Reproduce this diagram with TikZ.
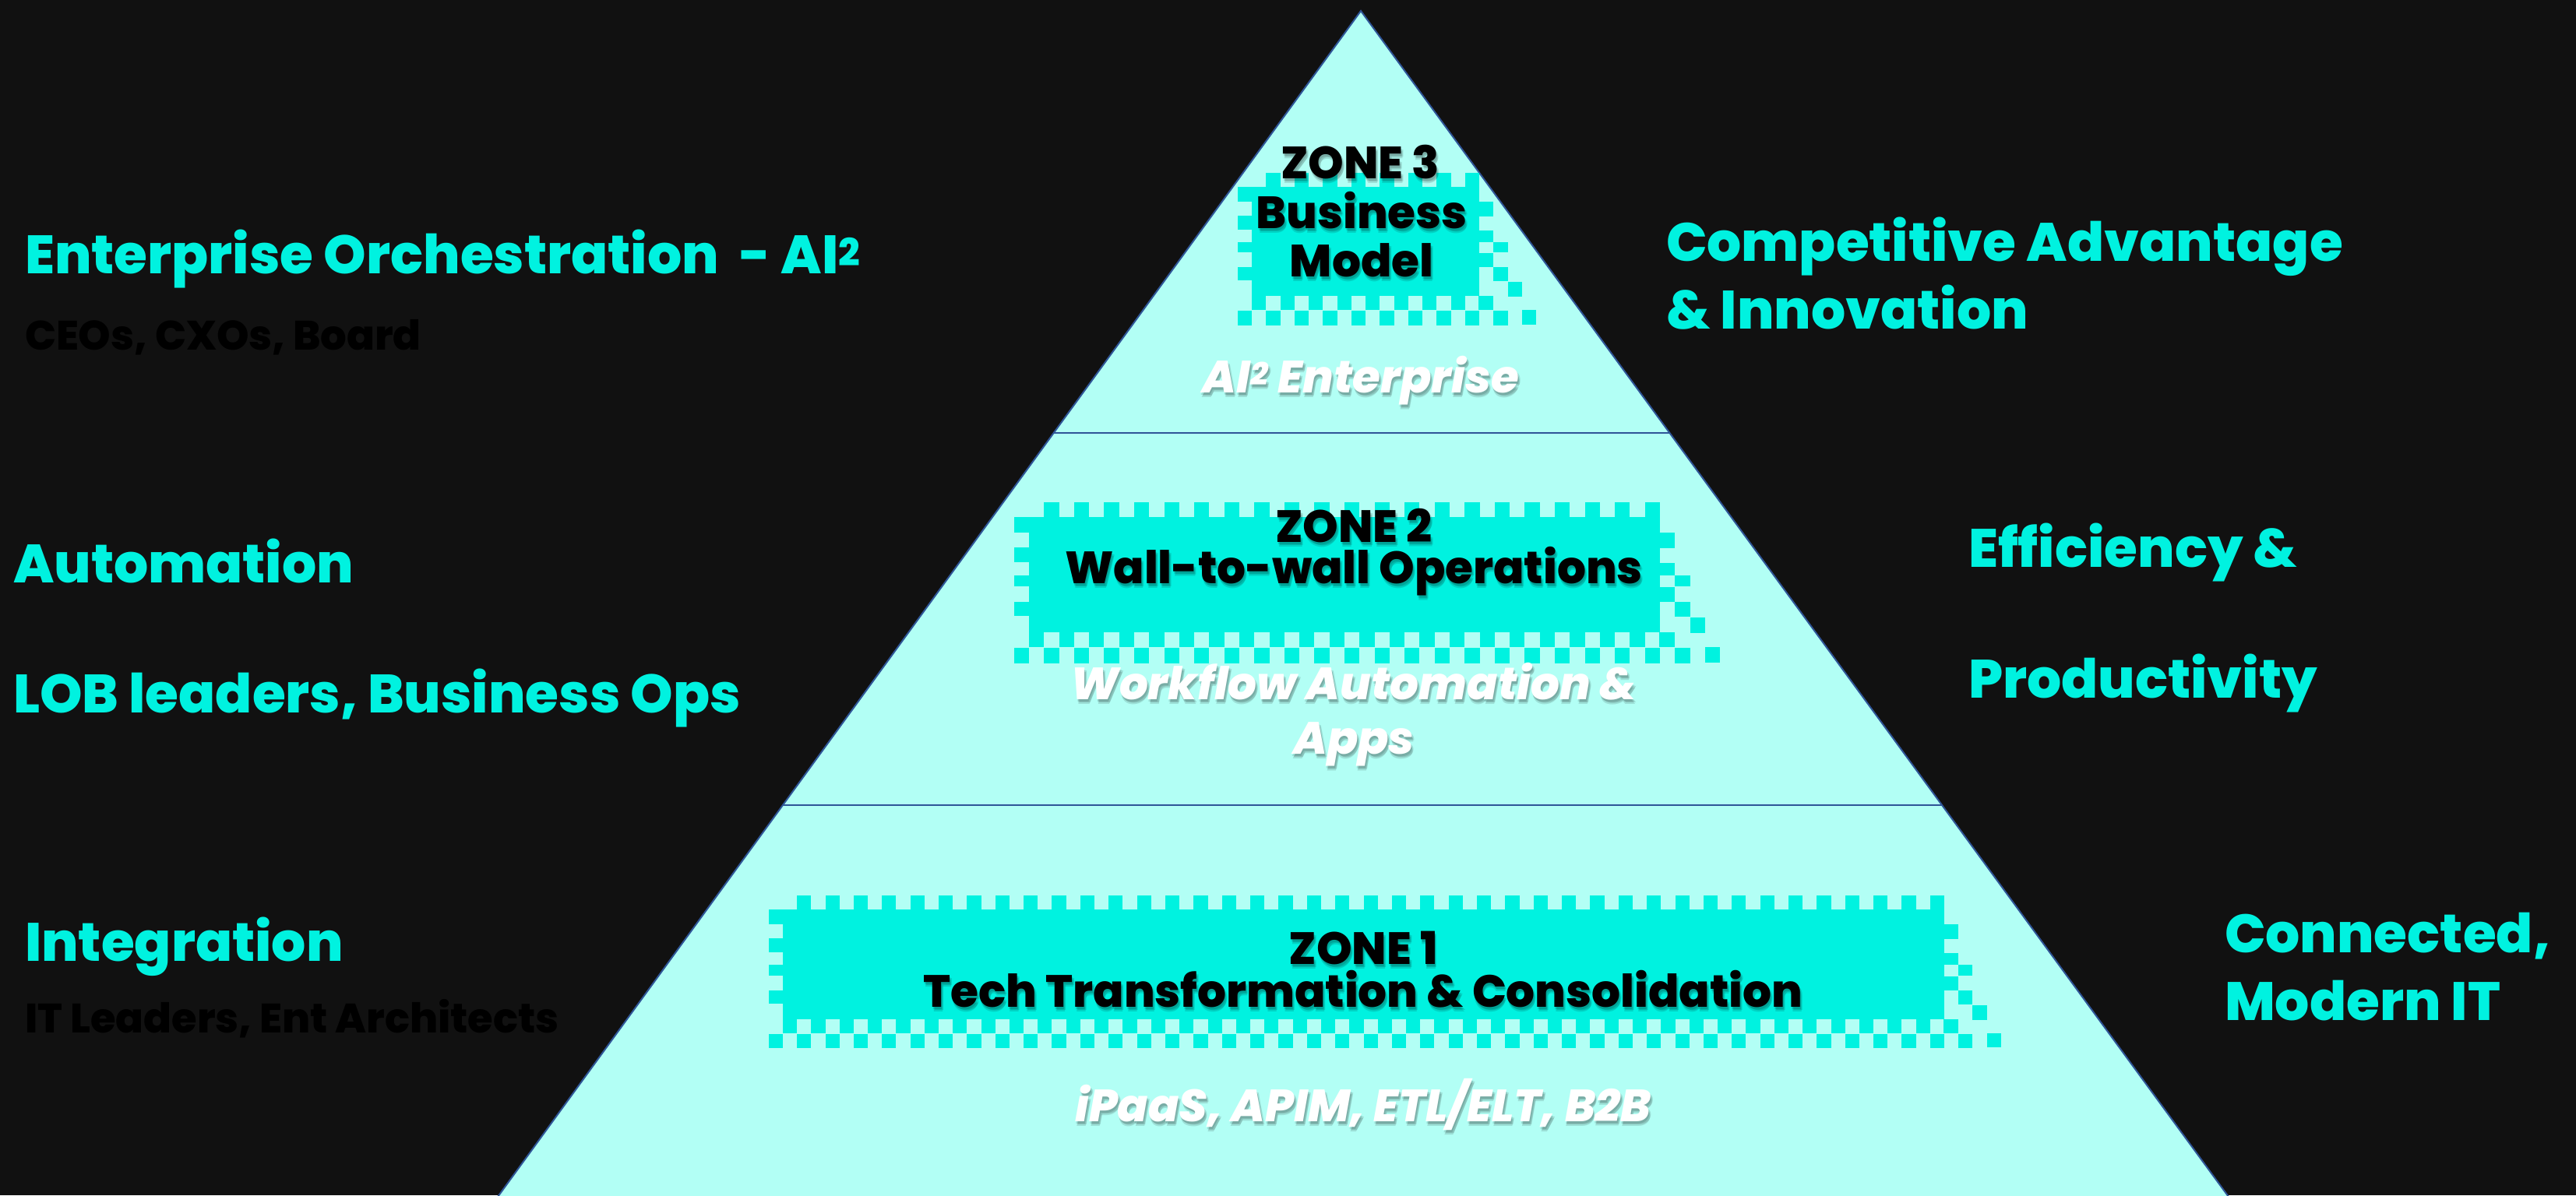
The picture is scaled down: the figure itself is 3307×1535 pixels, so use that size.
\documentclass[tikz,border=0pt]{standalone}
\usepackage{fontspec}
\setmainfont{Poppins}[BoldFont={Poppins ExtraBold},BoldItalicFont={Poppins ExtraBold Italic}]
\usetikzlibrary{calc}
\definecolor{bgcol}{HTML}{111111}
\definecolor{pyrcol}{HTML}{B2FFF5}
\definecolor{boxcol}{HTML}{00F2E0}
\definecolor{edgecol}{HTML}{2F5597}
\tikzset{
  lbl/.style={inner sep=0pt,outer sep=0pt,text=boxcol,font=\fontsize{69.4}{69.4}\selectfont\bfseries,anchor=base west},
  sub/.style={inner sep=0pt,outer sep=0pt,text=black,font=\fontsize{52.8}{52.8}\selectfont\bfseries,anchor=base west},
  zonetxt/.style={inner sep=0pt,outer sep=0pt,text=black,font=\fontsize{58}{58}\selectfont\bfseries,anchor=base},
  whitetxt/.style={inner sep=0pt,outer sep=0pt,text=white,font=\fontsize{58}{58}\selectfont\bfseries\itshape,anchor=base},
  pyramid/.style={fill=pyrcol,draw=edgecol,line width=2pt,line join=miter},
  divider/.style={draw=edgecol,line width=2pt},
}
% one text with a soft drop shadow inside the same node
\newcommand{\shlayer}[3]{\rlap{\kern#1pt\lower#2pt\hbox{\pgfsetfillopacity{0.12}\textcolor{black}{#3}\pgfsetfillopacity{1}}}}
\newcommand{\sht}[1]{\shlayer{1}{3}{#1}\shlayer{3}{4}{#1}\shlayer{2}{6}{#1}#1}
% checker-edged box: left, top, right, bottom, number of teeth
\newcommand{\ckbox}[5]{%
  \pgfmathsetmacro{\pp}{(#3-#1)/(#5+1)}
  \pgfmathsetmacro{\cc}{\pp/2}
  \pgfmathsetmacro{\hh}{(#4-#2)/141}
  \fill[boxcol] (#1,#2) rectangle (#3,#4);
  \foreach \k in {0,...,#5}{
    \fill[boxcol] ({#1+\cc+\k*\pp},{#2-\cc}) rectangle ({#1+\cc+\k*\pp+\cc},{#2+1});
    \fill[boxcol] ({#1+\k*\pp},{#4-1}) rectangle ({#1+\k*\pp+\cc},{#4+\cc});
    \fill[boxcol] ({#1+\cc+\k*\pp},{#4+\cc+1}) rectangle ({#1+\cc+\k*\pp+\cc},{#4+2*\cc+1});
  }
  \fill[boxcol] ({#1-\cc},{#4+\cc+1}) rectangle (#1,{#4+2*\cc+1});
  \fill[boxcol] ({#3-1},#4) rectangle ({#3+\cc},{#4+\cc});
  \fill[boxcol] ({#3+\cc},{#4+\cc+1}) rectangle ({#3+2*\cc},{#4+2*\cc+1});
  \fill[boxcol] ({#3+3*\cc},{#4+\cc}) rectangle ({#3+4*\cc},{#4+2*\cc});
  \foreach \a/\b in {0/19,37/55,71/85,104/121}{
    \fill[boxcol] ({#1-\cc},{#2+\a*\hh}) rectangle ({#1+1},{#2+\b*\hh});
  }
  \foreach \a/\b in {19/38,56/71,86/104}{
    \fill[boxcol] ({#3-1},{#2+\a*\hh}) rectangle ({#3+\cc},{#2+\b*\hh});
  }
  \foreach \a/\b in {71/85,104/122}{
    \fill[boxcol] ({#3+\cc},{#2+\a*\hh}) rectangle ({#3+2*\cc},{#2+\b*\hh});
  }
  \fill[boxcol] ({#3+2*\cc},{#2+123*\hh}) rectangle ({#3+3*\cc},{#2+142*\hh});
}
\begin{document}
\begin{tikzpicture}[x=1pt,y=-1pt]
\useasboundingbox (0,0) rectangle (3307,1535);
\fill[bgcol] (0,0) rectangle (3307,1535);
\coordinate (apex) at (1747,14);
\coordinate (bl) at (639,1537);
\coordinate (br) at (2861,1537);
\filldraw[pyramid] (apex) -- (bl) -- (br) -- cycle;
\draw[divider] ($(apex)!0.3557!(bl)$) -- ($(apex)!0.3557!(br)$);
\draw[divider] ($(apex)!0.67!(bl)$) -- ($(apex)!0.67!(br)$);
\ckbox{1607}{240}{1899}{380}{7}
\ckbox{1321}{664}{2131}{812}{20}
\ckbox{1005}{1168}{2496}{1309}{40}
% zone 3
\node[zonetxt] (zthree) at (1746,229) {\sht{ZONE 3}};
\node[zonetxt] (zthreea) at (1748,293) {\sht{Business}};
\node[zonetxt] (zthreeb) at (1748,355) {\sht{Model}};
\node[whitetxt] (wthree) at (1747,504) {\sht{AI\textsuperscript{2} Enterprise}};
% zone 2
\node[zonetxt] (ztwo) at (1738,696) {\sht{ZONE 2}};
\node[zonetxt] (ztwoa) at (1738,749) {\sht{Wall-to-wall Operations}};
\node[whitetxt] (wtwoa) at (1738,898) {\sht{Workflow Automation \&}};
\node[whitetxt] (wtwob) at (1738,968) {\sht{Apps}};
% zone 1
\node[zonetxt] (zone) at (1750,1238) {\sht{ZONE 1}};
\node[zonetxt] (zonea) at (1750,1293) {\sht{Tech Transformation \& Consolidation}};
\node[whitetxt] (wone) at (1750,1440) {\sht{iPaaS, APIM, ETL/ELT, B2B}};
% left
\node[lbl] (l3) at (32,351) {Enterprise Orchestration\ \ - AI\textsuperscript{2}};
\node[sub] (l3s) at (32,449) {CEOs, CXOs, Board};
\node[lbl] (l2) at (17,748) {Automation};
\node[lbl] (l2s) at (17,915) {LOB leaders, Business Ops};
\node[lbl] (l1) at (32,1234) {Integration};
\node[sub] (l1s) at (32,1326) {IT Leaders, Ent Architects};
% right
\node[lbl] (r3a) at (2139,335) {Competitive Advantage};
\node[lbl] (r3b) at (2139,422) {\& Innovation};
\node[lbl] (r2a) at (2527,728) {Efficiency \&};
\node[lbl] (r2b) at (2527,896) {Productivity};
\node[lbl] (r1a) at (2856,1223) {Connected,};
\node[lbl] (r1b) at (2856,1310) {Modern IT};
\end{tikzpicture}
\end{document}
